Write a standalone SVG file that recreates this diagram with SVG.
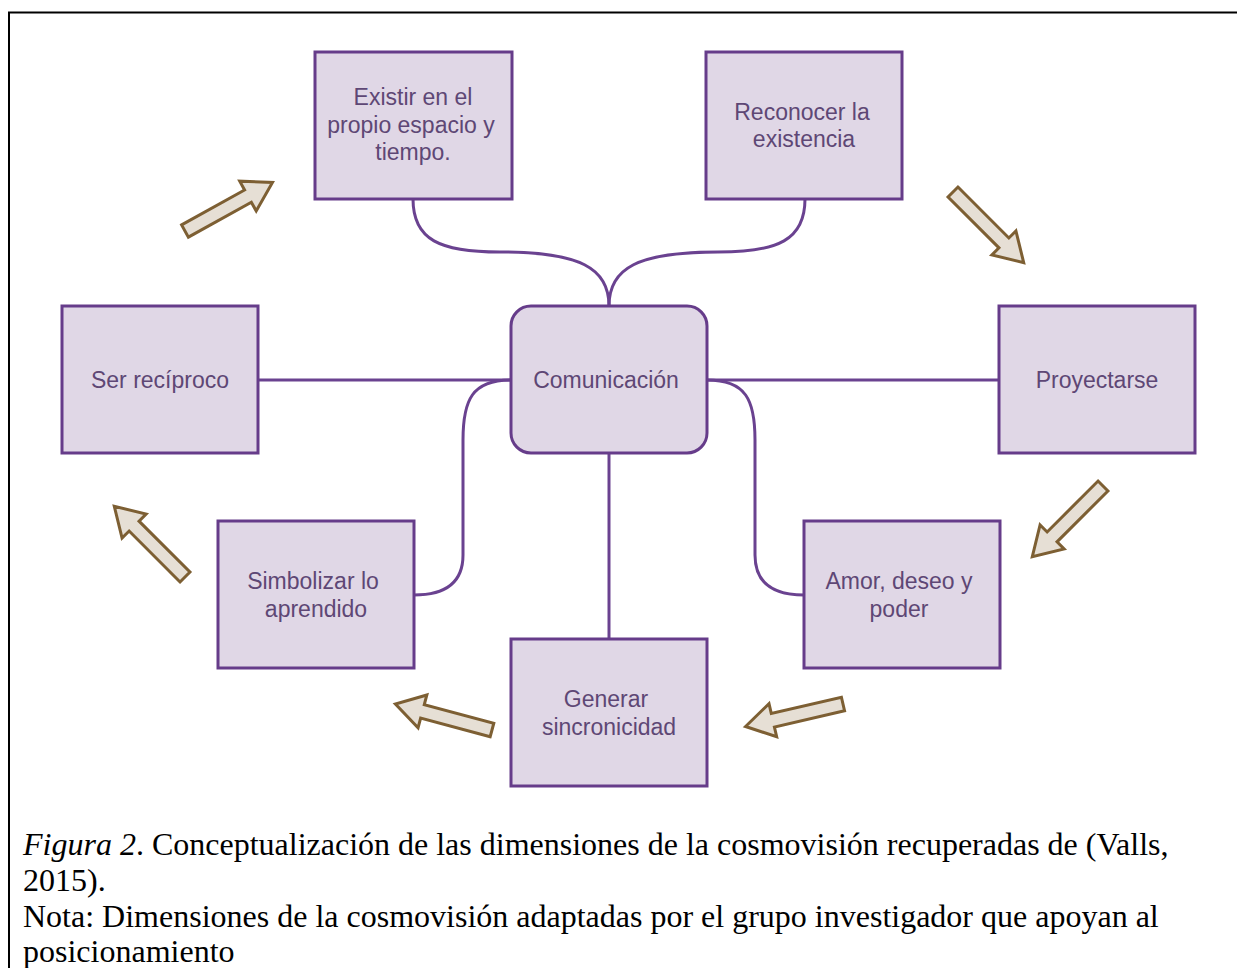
<svg xmlns="http://www.w3.org/2000/svg" width="1237" height="968" viewBox="0 0 1237 968">
<style>
.box{fill:#e0d7e6;stroke:#663c8a;stroke-width:3}
.lbl{font-family:"Liberation Sans",Arial,sans-serif;font-size:23px;fill:#5e4775;text-anchor:middle}
.con{fill:none;stroke:#6a4290;stroke-width:3}
.arr{fill:#e6dfd5;stroke:#7d5f33;stroke-width:3;stroke-linejoin:miter}
.cap{font-family:"Liberation Serif","Times New Roman",serif;font-size:32px;fill:#000}
</style>
<defs>
<polygon id="blk" points="0,-7 72,-7 72,-17 100,0 72,17 72,7 0,7"/>
</defs>
<rect width="1237" height="968" fill="#fff"/>
<g id="frame" stroke="#000" stroke-width="2" fill="none">
<line x1="8" y1="12.5" x2="1237" y2="12.5"/>
<line x1="9" y1="12" x2="9" y2="968"/>
</g>
<g id="connectors">
<path class="con" d="M413,199 C413,240 440,252 500,252 C580,252 609,268 609,306"/>
<path class="con" d="M805,199 C805,240 778,252 718,252 C638,252 609,268 609,306"/>
<line class="con" x1="258" y1="380" x2="511" y2="380"/>
<line class="con" x1="707" y1="380" x2="999" y2="380"/>
<line class="con" x1="609" y1="453" x2="609" y2="639"/>
<path class="con" d="M511,380 C472,380 463,400 463,440 L463,555 C463,585 443,595 414,595"/>
<path class="con" d="M707,380 C746,380 755,400 755,440 L755,555 C755,585 775,595 804,595"/>
</g>
<g id="arrows">
<use href="#blk" class="arr" transform="translate(185,231) rotate(-29)"/>
<use href="#blk" class="arr" transform="translate(953,192) rotate(45)"/>
<use href="#blk" class="arr" transform="translate(1103,486) rotate(135)"/>
<use href="#blk" class="arr" transform="translate(843,704) rotate(167)"/>
<use href="#blk" class="arr" transform="translate(492,730) rotate(195)"/>
<use href="#blk" class="arr" transform="translate(185,577) rotate(225)"/>
</g>
<g id="n-existir">
<rect class="box" x="315" y="52" width="197" height="147"/>
<text class="lbl" x="413" y="105">Existir en el</text>
<text class="lbl" x="411" y="132.5">propio espacio y</text>
<text class="lbl" x="413" y="160">tiempo.</text>
</g>
<g id="n-reconocer">
<rect class="box" x="706" y="52" width="196" height="147"/>
<text class="lbl" x="802" y="119.5">Reconocer la</text>
<text class="lbl" x="804" y="147">existencia</text>
</g>
<g id="n-ser">
<rect class="box" x="62" y="306" width="196" height="147"/>
<text class="lbl" x="160" y="388">Ser recíproco</text>
</g>
<g id="n-comunicacion">
<rect class="box" x="511" y="306" width="196" height="147" rx="20" ry="20"/>
<text class="lbl" x="606" y="388">Comunicación</text>
</g>
<g id="n-proyectarse">
<rect class="box" x="999" y="306" width="196" height="147"/>
<text class="lbl" x="1097" y="388">Proyectarse</text>
</g>
<g id="n-simbolizar">
<rect class="box" x="218" y="521" width="196" height="147"/>
<text class="lbl" x="313" y="589">Simbolizar lo</text>
<text class="lbl" x="316" y="616.5">aprendido</text>
</g>
<g id="n-amor">
<rect class="box" x="804" y="521" width="196" height="147"/>
<text class="lbl" x="899" y="589">Amor, deseo y</text>
<text class="lbl" x="899" y="616.5">poder</text>
</g>
<g id="n-generar">
<rect class="box" x="511" y="639" width="196" height="147"/>
<text class="lbl" x="606" y="707">Generar</text>
<text class="lbl" x="609" y="734.5">sincronicidad</text>
</g>
<g id="caption">
<text class="cap" x="23" y="855"><tspan font-style="italic">Figura 2</tspan>. Conceptualización de las dimensiones de la cosmovisión recuperadas de (Valls,</text>
<text class="cap" x="23" y="891">2015).</text>
<text class="cap" x="23" y="927">Nota: Dimensiones de la cosmovisión adaptadas por el grupo investigador que apoyan al</text>
<text class="cap" x="23" y="962">posicionamiento</text>
</g>
</svg>
